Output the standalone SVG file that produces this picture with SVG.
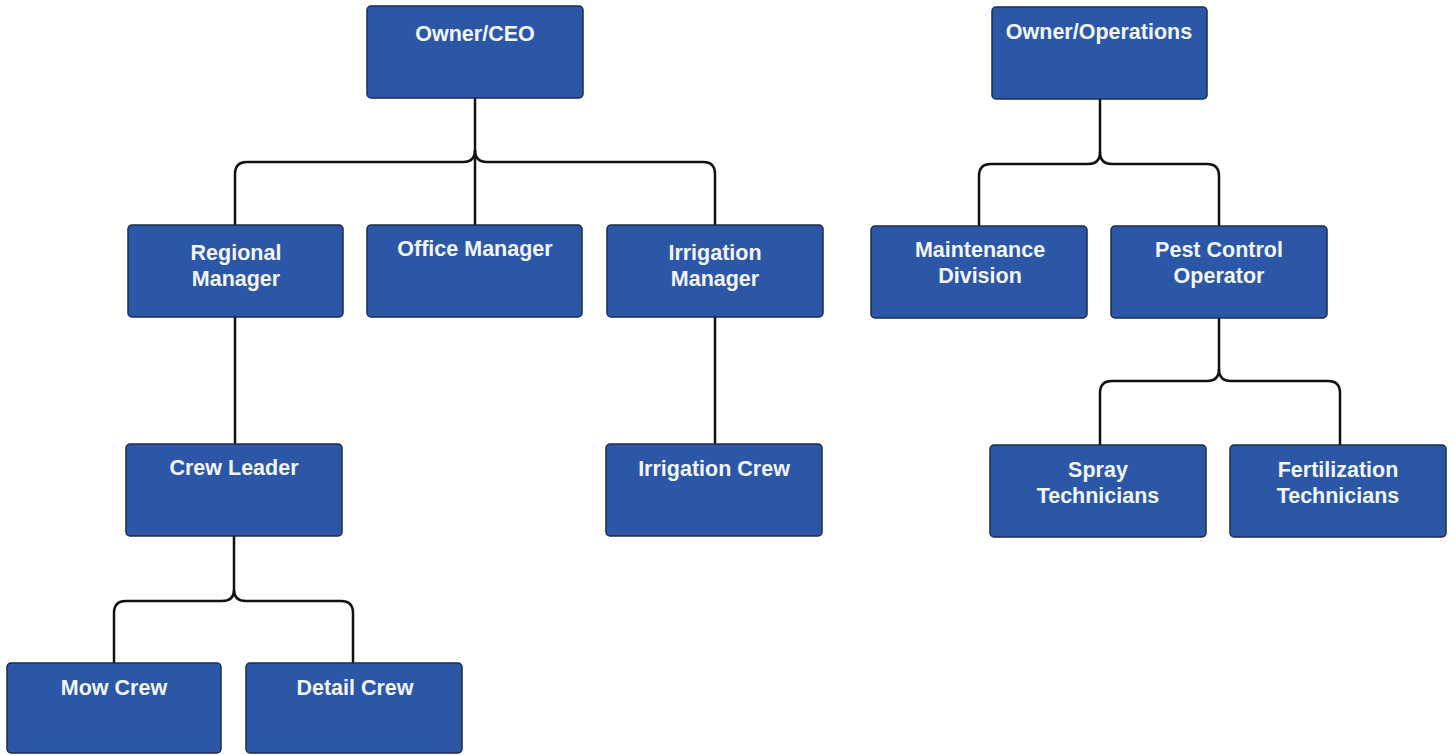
<svg xmlns="http://www.w3.org/2000/svg" width="1453" height="755" viewBox="0 0 1453 755">
  <style>
    .box { fill: #2c57a7; stroke: #1d2c4f; stroke-width: 1.5; }
    .lbl { fill: #f2f6fc; font-family: "Liberation Sans", Arial, sans-serif; font-weight: bold; font-size: 21.5px; text-anchor: middle; }
    .wire { fill: none; stroke: #111; stroke-width: 2.5; stroke-linejoin: round; }
  </style>
  <rect width="1453" height="755" fill="#ffffff"/>

  <g id="connectors">
    <!-- Owner/CEO to managers -->
    <path class="wire" d="M475 98 V225"/>
    <path class="wire" d="M475 150 Q475 162 463 162 H247 Q235 162 235 174 V225"/>
    <path class="wire" d="M475 150 Q475 162 487 162 H703 Q715 162 715 174 V225"/>
    <!-- Regional Manager to Crew Leader -->
    <path class="wire" d="M235 317 V444"/>
    <!-- Irrigation Manager to Irrigation Crew -->
    <path class="wire" d="M715 317 V444"/>
    <!-- Crew Leader to crews -->
    <path class="wire" d="M234 536 V590 Q234 601 222 601 H126 Q114 601 114 613 V663"/>
    <path class="wire" d="M234 590 Q234 601 246 601 H341 Q353 601 353 613 V663"/>
    <!-- Owner/Operations to divisions -->
    <path class="wire" d="M1100 99 V152 Q1100 164 1088 164 H991 Q979 164 979 176 V226"/>
    <path class="wire" d="M1100 152 Q1100 164 1112 164 H1207 Q1219 164 1219 176 V226"/>
    <!-- Pest Control to technicians -->
    <path class="wire" d="M1219 318 V369 Q1219 381 1207 381 H1112 Q1100 381 1100 393 V445"/>
    <path class="wire" d="M1219 369 Q1219 381 1231 381 H1328 Q1340 381 1340 393 V445"/>
  </g>

  <g id="owner-ceo">
    <rect class="box" x="367" y="6" width="216" height="92" rx="4"/>
    <text class="lbl" x="475" y="41">Owner/CEO</text>
  </g>
  <g id="regional-manager">
    <rect class="box" x="128" y="225" width="215" height="92" rx="4"/>
    <text class="lbl" x="236" y="260">Regional</text>
    <text class="lbl" x="236" y="286">Manager</text>
  </g>
  <g id="office-manager">
    <rect class="box" x="367" y="225" width="215" height="92" rx="4"/>
    <text class="lbl" x="475" y="256">Office Manager</text>
  </g>
  <g id="irrigation-manager">
    <rect class="box" x="607" y="225" width="216" height="92" rx="4"/>
    <text class="lbl" x="715" y="260">Irrigation</text>
    <text class="lbl" x="715" y="286">Manager</text>
  </g>
  <g id="crew-leader">
    <rect class="box" x="126" y="444" width="216" height="92" rx="4"/>
    <text class="lbl" x="234" y="475">Crew Leader</text>
  </g>
  <g id="irrigation-crew">
    <rect class="box" x="606" y="444" width="216" height="92" rx="4"/>
    <text class="lbl" x="714" y="476">Irrigation Crew</text>
  </g>
  <g id="mow-crew">
    <rect class="box" x="7" y="663" width="214" height="90" rx="4"/>
    <text class="lbl" x="114" y="695">Mow Crew</text>
  </g>
  <g id="detail-crew">
    <rect class="box" x="246" y="663" width="216" height="90" rx="4"/>
    <text class="lbl" x="355" y="695">Detail Crew</text>
  </g>
  <g id="owner-operations">
    <rect class="box" x="992" y="7" width="215" height="92" rx="4"/>
    <text class="lbl" x="1099" y="39">Owner/Operations</text>
  </g>
  <g id="maintenance-division">
    <rect class="box" x="871" y="226" width="216" height="92" rx="4"/>
    <text class="lbl" x="980" y="257">Maintenance</text>
    <text class="lbl" x="980" y="283">Division</text>
  </g>
  <g id="pest-control-operator">
    <rect class="box" x="1111" y="226" width="216" height="92" rx="4"/>
    <text class="lbl" x="1219" y="257">Pest Control</text>
    <text class="lbl" x="1219" y="283">Operator</text>
  </g>
  <g id="spray-technicians">
    <rect class="box" x="990" y="445" width="216" height="92" rx="4"/>
    <text class="lbl" x="1098" y="477">Spray</text>
    <text class="lbl" x="1098" y="503">Technicians</text>
  </g>
  <g id="fertilization-technicians">
    <rect class="box" x="1230" y="445" width="216" height="92" rx="4"/>
    <text class="lbl" x="1338" y="477">Fertilization</text>
    <text class="lbl" x="1338" y="503">Technicians</text>
  </g>
</svg>
